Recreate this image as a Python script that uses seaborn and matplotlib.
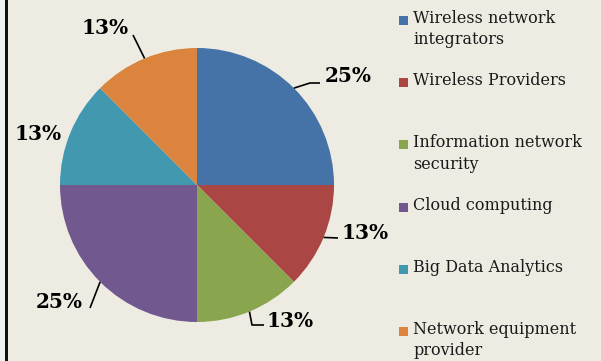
import matplotlib
matplotlib.use("Agg")
import matplotlib.pyplot as plt
import seaborn as sns
import numpy as np
from matplotlib.patches import Rectangle

categories = ["Wireless network\nintegrators", "Wireless Providers",
              "Information network\nsecurity", "Cloud computing",
              "Big Data Analytics", "Network equipment\nprovider"]
shares = [25, 12.5, 12.5, 25, 12.5, 12.5]
pct_labels = ["25%", "13%", "13%", "25%", "13%", "13%"]
colors = ["#4572A7", "#AA4643", "#89A54E", "#71588F", "#4198AF", "#DB843D"]

sns.set_theme(style="white")
plt.rcParams["font.family"] = ["DejaVu Serif"]

W, H = 601, 361
bg = "#EEECE2"
fig = plt.figure(figsize=(W / 100, H / 100), dpi=100, facecolor=bg)
ax = fig.add_axes([0, 0, 1, 1])
ax.set_facecolor(bg)

cx, cy, r = 197, H - 185, 137
palette = sns.color_palette(colors)
wedges, _ = ax.pie(shares, colors=palette, startangle=90, counterclock=False,
                   center=(cx, cy), radius=r, frame=True,
                   wedgeprops=dict(linewidth=0))
ax.set_xlim(0, W)
ax.set_ylim(0, H)
ax.set_aspect("auto")
ax.axis("off")

# label text anchor (pixel coords, y from top) and leader elbow points
label_pos = [(348, 76), (365, 233), (290, 321), (59, 302), (38, 134), (105, 28)]
leader_pts = [[(310, 83), (320, 83)], [(338, 238)], [(252, 325), (264, 325)],
              [(90, 308)], [], [(133, 35)]]

for w, txt, (lx, ly), pts in zip(wedges, pct_labels, label_pos, leader_pts):
    ang = np.deg2rad((w.theta1 + w.theta2) / 2)
    ex, ey = cx + r * np.cos(ang), cy + r * np.sin(ang)
    if pts:
        xs = [ex] + [p[0] for p in pts]
        ys = [ey] + [H - p[1] for p in pts]
        ax.plot(xs, ys, color="black", lw=1.2, solid_capstyle="butt")
    ax.text(lx, H - ly, txt, ha="center", va="center", fontsize=14.5,
            fontweight="heavy", color="black")

# legend
for i, (lab, col) in enumerate(zip(categories, palette)):
    ty = 20 + i * 62.2
    ax.add_patch(Rectangle((399, H - ty - 5), 9, 9, color=col, lw=0))
    ax.text(413, H - ty + 10, lab, ha="left", va="top", fontsize=11.5,
            color="#1a1a1a", linespacing=1.32)

# left edge strip and frame line
fig.patches.append(Rectangle((0, 0), 5 / W, 1, transform=fig.transFigure,
                             color="#F0F0F0", lw=0, zorder=5))
fig.patches.append(Rectangle((5 / W, 0), 2.5 / W, 1, transform=fig.transFigure,
                             color="#111111", lw=0, zorder=5))

fig.savefig("out.png", dpi=100, facecolor=bg)
